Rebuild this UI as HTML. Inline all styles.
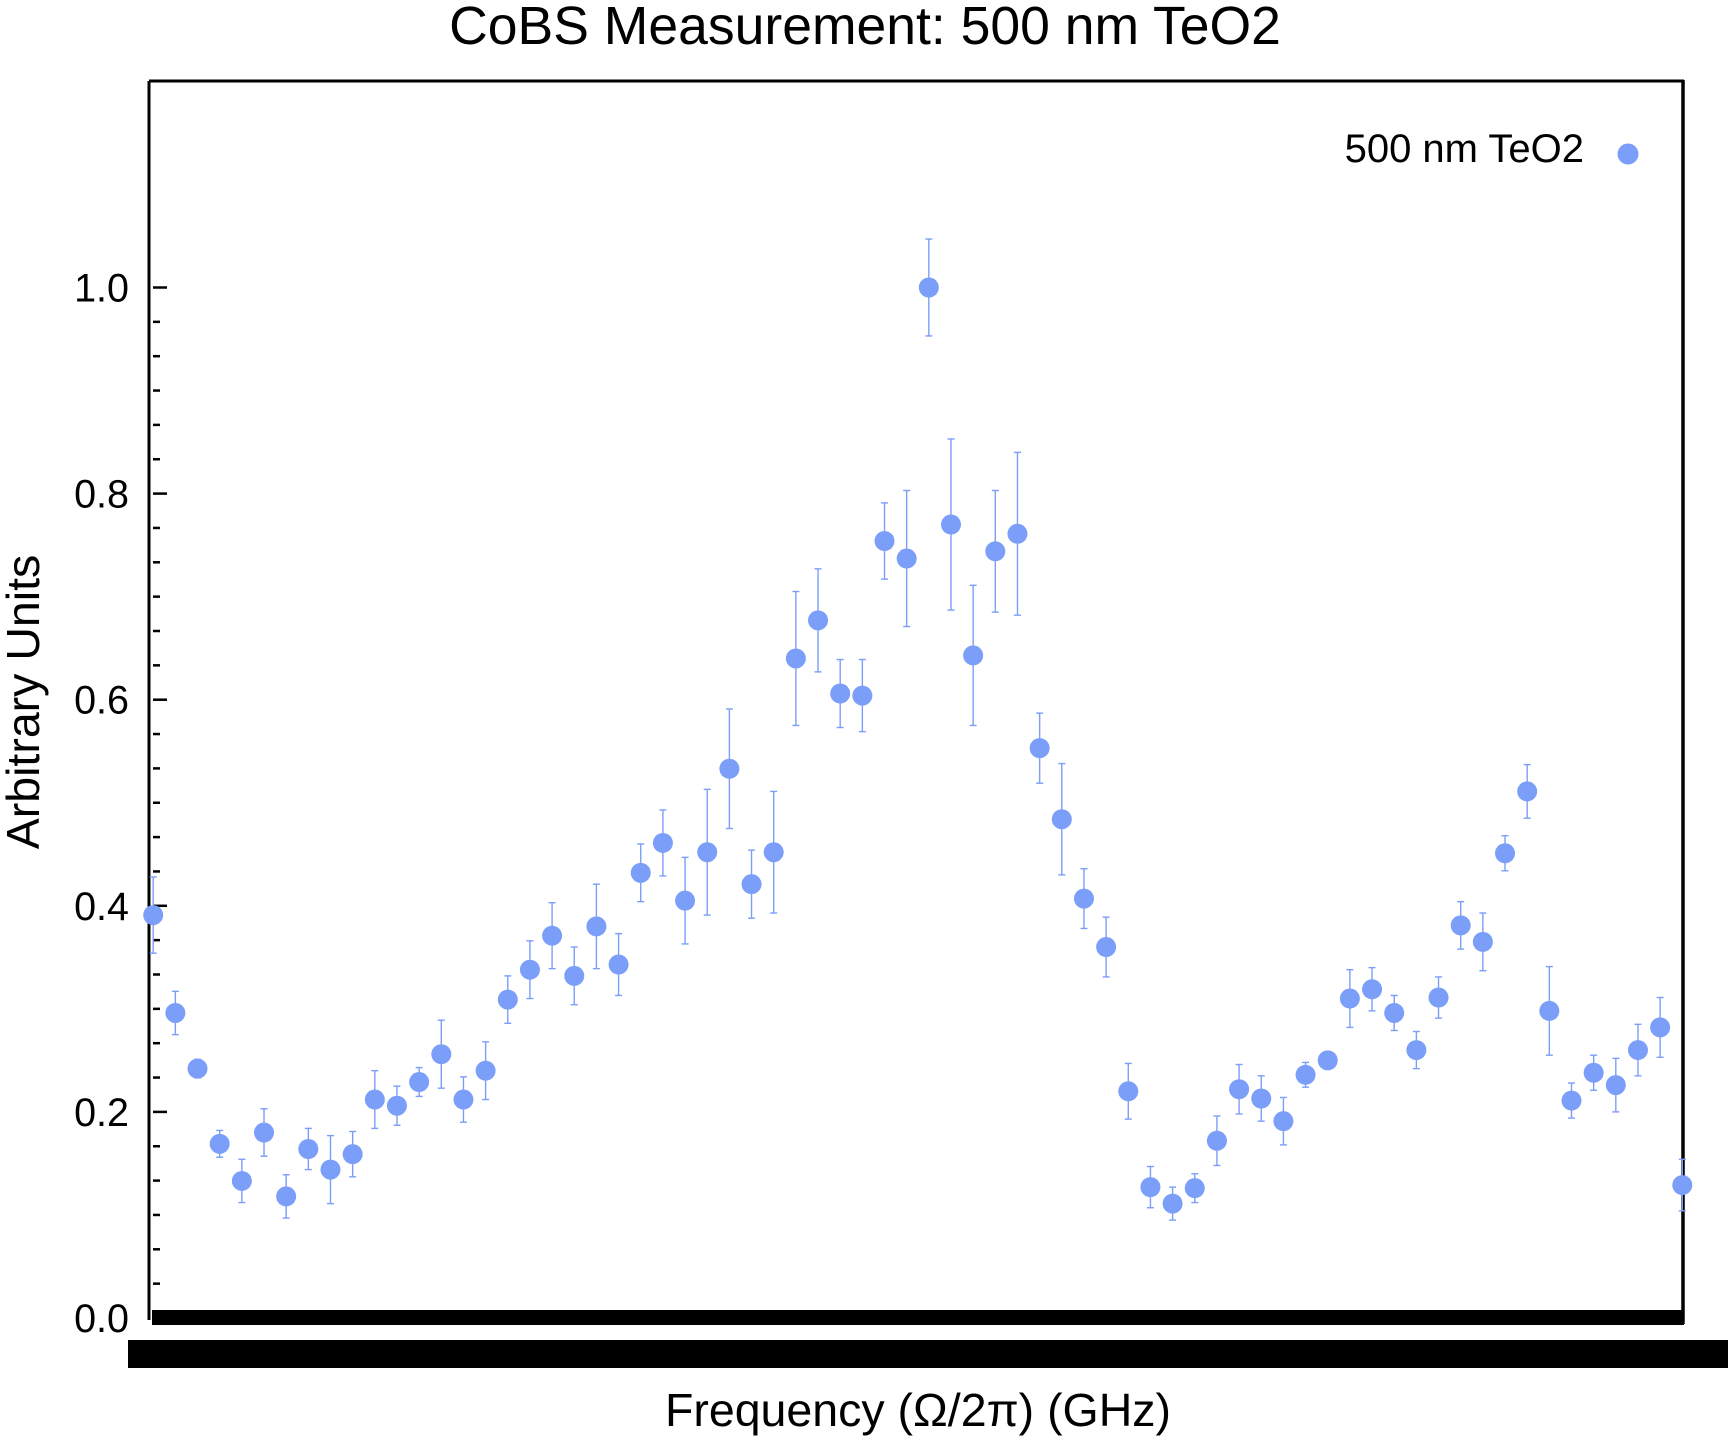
<!DOCTYPE html>
<html><head><meta charset="utf-8"><style>
html,body{margin:0;padding:0;background:#fff;}
svg{display:block;font-family:"Liberation Sans",sans-serif;}
</style></head><body>
<svg id="chart" width="1728" height="1440" viewBox="0 0 1728 1440" xmlns="http://www.w3.org/2000/svg">
<text x="865" y="44" font-size="53.5" text-anchor="middle">CoBS Measurement: 500 nm TeO2</text>
<g id="axes"></g>
<g id="points"></g>
<text transform="translate(39,702) rotate(-90)" font-size="46.5" text-anchor="middle">Arbitrary Units</text>
<text x="918" y="1426" font-size="46.5" text-anchor="middle">Frequency (Ω/2π) (GHz)</text>
<g>
<text x="1584" y="162" font-size="40" text-anchor="end">500 nm TeO2</text>
<circle cx="1628" cy="154" r="10.5" fill="#7b9ef9"/>
</g>
</svg>
<script>
const values = [0.391,0.296,0.242,0.169,0.133,0.180,0.118,0.164,0.144,0.159,0.212,0.206,0.229,0.256,0.212,0.240,0.309,0.338,0.371,0.332,0.380,0.343,0.432,0.461,0.405,0.452,0.533,0.421,0.452,0.640,0.677,0.606,0.604,0.754,0.737,1.000,0.770,0.643,0.744,0.761,0.553,0.484,0.407,0.360,0.220,0.127,0.111,0.126,0.172,0.222,0.213,0.191,0.236,0.250,0.310,0.319,0.296,0.260,0.311,0.381,0.365,0.451,0.511,0.298,0.211,0.238,0.226,0.260,0.282,0.129];
const errors = [0.037,0.021,0.009,0.013,0.021,0.023,0.021,0.020,0.033,0.022,0.028,0.019,0.014,0.033,0.022,0.028,0.023,0.028,0.032,0.028,0.041,0.030,0.028,0.032,0.042,0.061,0.058,0.033,0.059,0.065,0.050,0.033,0.035,0.037,0.066,0.047,0.083,0.068,0.059,0.079,0.034,0.054,0.029,0.029,0.027,0.020,0.016,0.014,0.024,0.024,0.022,0.023,0.012,0.003,0.028,0.021,0.017,0.018,0.020,0.023,0.028,0.017,0.026,0.043,0.017,0.017,0.026,0.025,0.029,0.025];
const yTickLabels = ["0.0","0.2","0.4","0.6","0.8","1.0"];
const yTickValues = [0,0.2,0.4,0.6,0.8,1.0];

const NS="http://www.w3.org/2000/svg";
const x0=153.2, dx=(1682.3-153.2)/(values.length-1);
function xScale(i){return x0+dx*i;}
function yScale(v){return 1318-v*1030.5;}
function mk(tag,attrs,parent){const e=document.createElementNS(NS,tag);for(const k in attrs)e.setAttribute(k,attrs[k]);parent.appendChild(e);return e;}

const axes=document.getElementById('axes');
let e;
e=mk('line',{x1:149,y1:81,x2:149,y2:1320,stroke:'#000','stroke-width':3},axes);


e=mk('line',{x1:149,y1:81,x2:1684,y2:81,stroke:'#000','stroke-width':3},axes);


e=mk('line',{x1:1683,y1:80,x2:1683,y2:1324,stroke:'#000','stroke-width':3.5},axes);


e=mk('rect',{x:152,y:1310,width:1532,height:15,fill:'#000'},axes);


e=mk('rect',{x:128,y:1340,width:1600,height:28,fill:'#000'},axes);


for(let k=1;k<30;k++){
  if(k%6===0)continue;
  const y=yScale(k/30);
  e=mk('line',{x1:153,y1:y,x2:160,y2:y,stroke:'#000','stroke-width':2.5},axes);
  
  
}
yTickValues.forEach((v,i)=>{
  const y=yScale(v);
  if(i>0){
    e=mk('line',{x1:153,y1:y,x2:167,y2:y,stroke:'#000','stroke-width':2.5},axes);
    
    
  }
  const t=mk('text',{x:129,y:y+14,'font-size':39.5,'text-anchor':'end'},axes);
  t.textContent=yTickLabels[i];
  
  
});

const pts=document.getElementById('points');
const col='#7b9ef9';
values.forEach((v,i)=>{
  const x=xScale(i), y=yScale(v), yt=yScale(v+errors[i]), yb=yScale(v-errors[i]);
  const g=mk('g',{},pts);
  
  
  mk('line',{x1:x,y1:yt,x2:x,y2:yb,stroke:col,'stroke-width':1.4},g);
  mk('line',{x1:x-3.5,y1:yt,x2:x+3.5,y2:yt,stroke:col,'stroke-width':1.4},g);
  mk('line',{x1:x-3.5,y1:yb,x2:x+3.5,y2:yb,stroke:col,'stroke-width':1.4},g);
  mk('circle',{cx:x,cy:y,r:10,fill:col},g);
});
</script>
</body></html>
